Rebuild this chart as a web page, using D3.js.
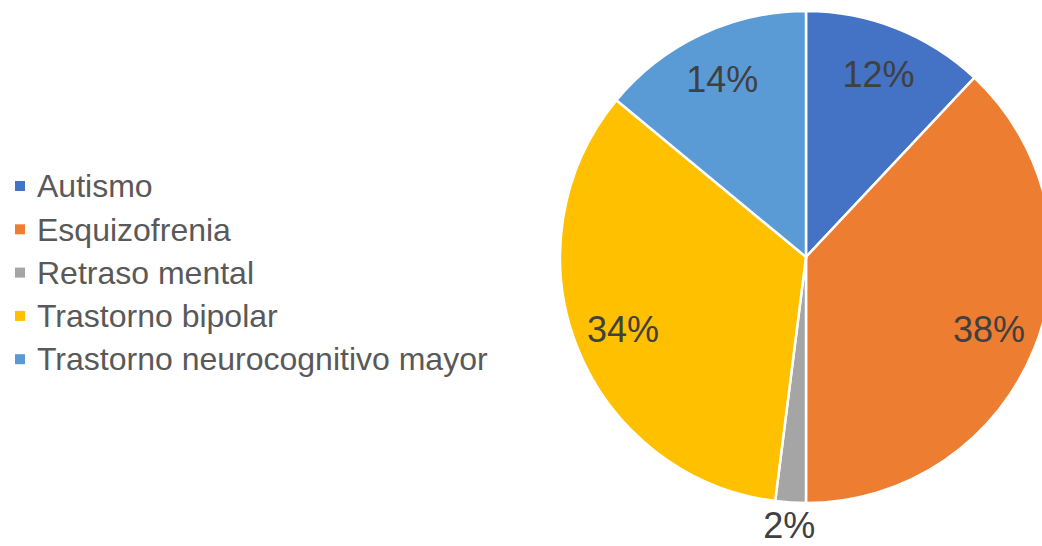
<!DOCTYPE html>
<html lang="es">
<head>
  <meta charset="UTF-8">
  <title>Pie</title>
  <script src="https://d3js.org/d3.v7.min.js"></script>
  <style>
    body { margin: 0; background: #fff; }
    text { font-family: "Liberation Sans", Arial, sans-serif; }
  </style>
</head>
<body>
  <svg class="piesvg" width="1042" height="546"></svg>
  <script>
    const categories = ['Autismo', 'Esquizofrenia', 'Retraso mental', 'Trastorno bipolar', 'Trastorno neurocognitivo mayor'];
    const values = [12, 38, 2, 34, 14];
    const colors = ['#4472C4', '#ED7D31', '#A5A5A5', '#FFC000', '#5B9BD5'];

    const svg = d3.select('svg.piesvg');
    const cx = 806, cy = 257, radius = 246;

    const data = categories.map((c, i) => ({ name: c, value: values[i], color: colors[i] }));

    const pie = d3.pie().sort(null).value(d => d.value);
    const arcs = pie(data);

    const arc = d3.arc().innerRadius(0).outerRadius(radius);
    const labelArc = d3.arc().innerRadius(radius * 0.8).outerRadius(radius * 0.8);
    const outArc = d3.arc().innerRadius(radius * 1.09).outerRadius(radius * 1.09);

    const g = svg.append('g').attr('transform', `translate(${cx},${cy})`);

    g.selectAll('path')
      .data(arcs)
      .join('path')
      .attr('d', arc)
      .attr('fill', d => d.data.color)
      .attr('stroke', '#fff')
      .attr('stroke-width', 2.5);

    // small slices get their label outside
    g.selectAll('text.lbl')
      .data(arcs)
      .join('text')
      .attr('class', 'lbl')
      .attr('transform', d => {
        const p = (d.data.value < 5 ? outArc : labelArc).centroid(d);
        return `translate(${p[0]},${p[1]})`;
      })
      .attr('text-anchor', 'middle')
      .attr('dy', '0.36em')
      .attr('font-size', 36)
      .attr('fill', '#404040')
      .text(d => d.data.value + '%');

    // legend
    const legend = svg.append('g').attr('transform', 'translate(15,186)');
    const rows = legend.selectAll('g')
      .data(data)
      .join('g')
      .attr('transform', (d, i) => `translate(0,${i * 43.3})`);

    rows.append('rect')
      .attr('x', 0).attr('y', -5)
      .attr('width', 10).attr('height', 10)
      .attr('fill', d => d.color);

    rows.append('text')
      .attr('x', 22)
      .attr('dy', '0.35em')
      .attr('font-size', 32)
      .attr('fill', '#595959')
      .text(d => d.name);
  </script>
</body>
</html>
